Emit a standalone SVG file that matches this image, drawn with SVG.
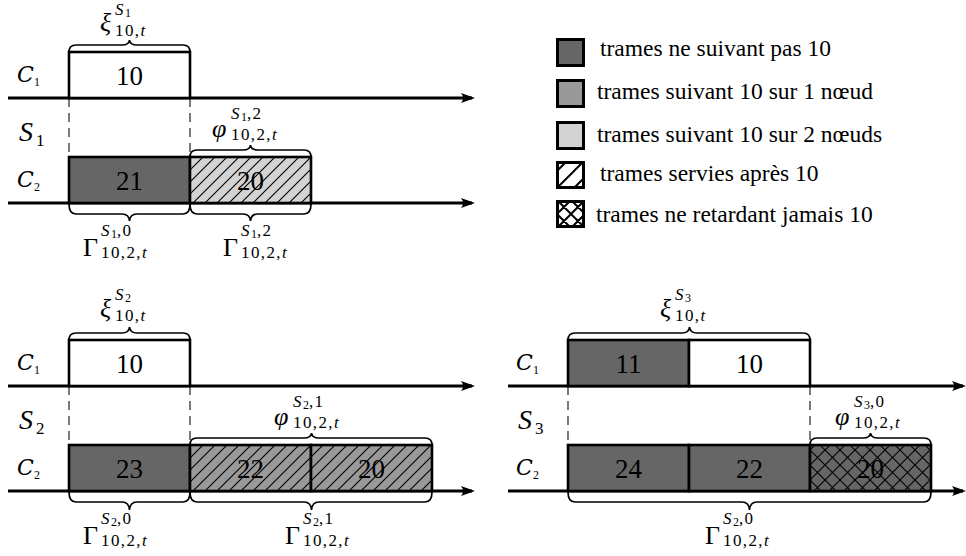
<svg xmlns="http://www.w3.org/2000/svg" width="966" height="556" viewBox="0 0 966 556">
<style>
.m{font-family:"Liberation Serif","DejaVu Serif",serif;fill:#000}
.b{font-size:26px}
.s{font-size:17px;letter-spacing:1.4px}
.ss{font-size:12px;letter-spacing:0}
.i{font-style:italic}
.phi{font-family:"Liberation Serif","DejaVu Serif",serif;font-size:26px;font-style:italic}
.big{font-size:28px}
.cal{font-family:"DejaVu Serif","DejaVu Sans","Liberation Serif",serif;font-size:22px}
.num{font-family:"Liberation Serif",serif;font-size:27px;text-anchor:middle;fill:#000}
.leg{font-family:"Liberation Serif",serif;font-size:23.5px;fill:#000}
.box{stroke:#000;stroke-width:2.6}
.dark{fill:#666}
.med{fill:#999}
.light{fill:#d3d3d3}
.white{fill:#fff}
.axis{stroke:#000;stroke-width:2.8;fill:none}
.dash{stroke:#222;stroke-width:1.2;stroke-dasharray:9 6;fill:none}
.brace{stroke:#000;stroke-width:1.7;fill:none}
.lg{stroke:#000;stroke-width:3}
</style>
<defs>
<marker id="arr" viewBox="-14 -6 18 12" refX="0" refY="0" markerWidth="18" markerHeight="12" markerUnits="userSpaceOnUse" orient="auto">
<path d="M3,0 L-11,-5 Q-7,0 -11,5 Z" fill="#000"/>
</marker>
<pattern id="hatch" patternUnits="userSpaceOnUse" width="12" height="12">
<path d="M-3,3 L3,-3 M0,12 L12,0 M9,15 L15,9" stroke="#000" stroke-width="1.1"/>
</pattern>
<pattern id="cross" patternUnits="userSpaceOnUse" width="15" height="15">
<path d="M-3,3 L3,-3 M0,15 L15,0 M12,18 L18,12 M12,-3 L18,3 M0,0 L15,15 M-3,12 L3,18" stroke="#000" stroke-width="1.1"/>
</pattern>
<pattern id="lhatch" patternUnits="userSpaceOnUse" width="17" height="17" patternTransform="translate(557,188)">
<path d="M-3,3 L3,-3 M0,17 L17,0 M14,20 L20,14" stroke="#000" stroke-width="2"/>
</pattern>
<pattern id="lcross" patternUnits="userSpaceOnUse" width="14" height="14" patternTransform="translate(571,214)">
<path d="M-3,3 L3,-3 M0,14 L14,0 M11,17 L17,11 M11,-3 L17,3 M0,0 L14,14 M-3,11 L3,17" stroke="#000" stroke-width="2"/>
</pattern>
</defs>
<rect width="966" height="556" fill="#fff"/>

<g id="connectors">
<line class="axis" x1="8" y1="98" x2="472" y2="98" marker-end="url(#arr)"/>
<line class="axis" x1="8" y1="203" x2="472" y2="203" marker-end="url(#arr)"/>
<line class="axis" x1="8" y1="386" x2="472" y2="386" marker-end="url(#arr)"/>
<line class="axis" x1="8" y1="491" x2="472" y2="491" marker-end="url(#arr)"/>
<line class="axis" x1="508" y1="386" x2="963" y2="386" marker-end="url(#arr)"/>
<line class="axis" x1="508" y1="491" x2="963" y2="491" marker-end="url(#arr)"/>
<path class="dash" d="M69,98 V157 M190,98 V157 M69,386 V445 M190,386 V445 M568,386 V445 M810,386 V445"/>
</g>

<g id="panel-s1">
<text class="m cal i" x="17" y="82">C</text><text class="m ss" x="34" y="86">1</text>
<text class="m big i" x="19" y="141">S</text><text class="m s" x="36" y="146">1</text>
<text class="m cal i" x="17" y="187">C</text><text class="m ss" x="34" y="191">2</text>
<g id="s1-c1-10"><rect class="box white" x="69" y="52" width="121" height="46"/><text class="num" x="129.5" y="85">10</text></g>
<g id="s1-c2-21"><rect class="box dark" x="69" y="157" width="121" height="46"/><text class="num" x="129.5" y="190">21</text></g>
<g id="s1-c2-20"><rect class="light" x="190" y="157" width="121" height="46"/><text class="num" x="250.5" y="190">20</text><rect x="190" y="157" width="121" height="46" fill="url(#hatch)"/><rect class="box" fill="none" x="190" y="157" width="121" height="46"/></g>
<path class="brace" d="M69,52 Q69,45 76,45 L122,45 Q129,45 129.5,40 Q130,45 137,45 L183,45 Q190,45 190,52"/>
<path class="brace" d="M190,157 Q190,150 197,150 L243,150 Q250,150 250.5,145 Q251,150 258,150 L304,150 Q311,150 311,157"/>
<path class="brace" d="M69,204 Q69,214 76,214 L122,214 Q129,214 129.5,221 Q130,214 137,214 L183,214 Q190,214 190,204"/>
<path class="brace" d="M190,204 Q190,214 197,214 L243,214 Q250,214 250.5,221 Q251,214 258,214 L304,214 Q311,214 311,204"/>
<g id="xi-s1"><text class="m b i" x="100" y="31">ξ</text><text class="m s" x="115" y="15"><tspan class="i">S</tspan><tspan class="ss" dy="2">1</tspan></text><text class="m s" x="115" y="36">10,<tspan class="i">t</tspan></text></g>
<g id="phi-s1"><text class="m phi" x="212" y="137">φ</text><text class="m s" x="231" y="119"><tspan class="i">S</tspan><tspan class="ss" dy="2">1</tspan><tspan dy="-2">,2</tspan></text><text class="m s" x="231" y="140">10,2,<tspan class="i">t</tspan></text></g>
<g id="gamma-s1-0"><text class="m b" x="83" y="256">Γ</text><text class="m s" x="101" y="236"><tspan class="i">S</tspan><tspan class="ss" dy="2">1</tspan><tspan dy="-2">,0</tspan></text><text class="m s" x="101" y="258">10,2,<tspan class="i">t</tspan></text></g>
<g id="gamma-s1-2"><text class="m b" x="223" y="256">Γ</text><text class="m s" x="241" y="236"><tspan class="i">S</tspan><tspan class="ss" dy="2">1</tspan><tspan dy="-2">,2</tspan></text><text class="m s" x="241" y="258">10,2,<tspan class="i">t</tspan></text></g>
</g>

<g id="panel-s2">
<text class="m cal i" x="17" y="370">C</text><text class="m ss" x="34" y="374">1</text>
<text class="m big i" x="19" y="429">S</text><text class="m s" x="36" y="434">2</text>
<text class="m cal i" x="17" y="475">C</text><text class="m ss" x="34" y="479">2</text>
<g id="s2-c1-10"><rect class="box white" x="69" y="340" width="121" height="46"/><text class="num" x="129.5" y="373">10</text></g>
<g id="s2-c2-23"><rect class="box dark" x="69" y="445" width="121" height="46"/><text class="num" x="129.5" y="478">23</text></g>
<g id="s2-c2-22"><rect class="med" x="190" y="445" width="121" height="46"/><text class="num" x="250.5" y="478">22</text><rect x="190" y="445" width="121" height="46" fill="url(#hatch)"/><rect class="box" fill="none" x="190" y="445" width="121" height="46"/></g>
<g id="s2-c2-20"><rect class="med" x="311" y="445" width="121" height="46"/><text class="num" x="371.5" y="478">20</text><rect x="311" y="445" width="121" height="46" fill="url(#hatch)"/><rect class="box" fill="none" x="311" y="445" width="121" height="46"/></g>
<path class="brace" d="M69,340 Q69,333 76,333 L122,333 Q129,333 129.5,327 Q130,333 137,333 L183,333 Q190,333 190,340"/>
<path class="brace" d="M190,445 Q190,438 197,438 L304,438 Q311,438 311.5,433 Q312,438 319,438 L425,438 Q432,438 432,445"/>
<path class="brace" d="M69,492 Q69,502 76,502 L122,502 Q129,502 129.5,510 Q130,502 137,502 L183,502 Q190,502 190,492"/>
<path class="brace" d="M190,492 Q190,502 197,502 L304,502 Q311,502 311.5,510 Q312,502 319,502 L425,502 Q432,502 432,492"/>
<g id="xi-s2"><text class="m b i" x="100" y="317">ξ</text><text class="m s" x="115" y="300"><tspan class="i">S</tspan><tspan class="ss" dy="2">2</tspan></text><text class="m s" x="115" y="321">10,<tspan class="i">t</tspan></text></g>
<g id="phi-s2"><text class="m phi" x="274" y="425">φ</text><text class="m s" x="293" y="407"><tspan class="i">S</tspan><tspan class="ss" dy="2">2</tspan><tspan dy="-2">,1</tspan></text><text class="m s" x="293" y="428">10,2,<tspan class="i">t</tspan></text></g>
<g id="gamma-s2-0"><text class="m b" x="83" y="544">Γ</text><text class="m s" x="101" y="524"><tspan class="i">S</tspan><tspan class="ss" dy="2">2</tspan><tspan dy="-2">,0</tspan></text><text class="m s" x="101" y="546">10,2,<tspan class="i">t</tspan></text></g>
<g id="gamma-s2-1"><text class="m b" x="285" y="544">Γ</text><text class="m s" x="303" y="524"><tspan class="i">S</tspan><tspan class="ss" dy="2">2</tspan><tspan dy="-2">,1</tspan></text><text class="m s" x="303" y="546">10,2,<tspan class="i">t</tspan></text></g>
</g>

<g id="panel-s3">
<text class="m cal i" x="516" y="370">C</text><text class="m ss" x="533" y="374">1</text>
<text class="m big i" x="518" y="429">S</text><text class="m s" x="535" y="434">3</text>
<text class="m cal i" x="516" y="475">C</text><text class="m ss" x="533" y="479">2</text>
<g id="s3-c1-11"><rect class="box dark" x="568" y="340" width="121" height="46"/><text class="num" x="628.5" y="373">11</text></g>
<g id="s3-c1-10"><rect class="box white" x="689" y="340" width="121" height="46"/><text class="num" x="749.5" y="373">10</text></g>
<g id="s3-c2-24"><rect class="box dark" x="568" y="445" width="121" height="46"/><text class="num" x="628.5" y="478">24</text></g>
<g id="s3-c2-22"><rect class="box dark" x="689" y="445" width="121" height="46"/><text class="num" x="749.5" y="478">22</text></g>
<g id="s3-c2-20"><rect class="dark" x="810" y="445" width="121" height="46"/><text class="num" x="870.5" y="478">20</text><rect x="810" y="445" width="121" height="46" fill="url(#cross)"/><rect class="box" fill="none" x="810" y="445" width="121" height="46"/></g>
<path class="brace" d="M568,340 Q568,333 575,333 L682,333 Q689,333 689.5,327 Q690,333 697,333 L803,333 Q810,333 810,340"/>
<path class="brace" d="M810,445 Q810,438 817,438 L863,438 Q870,438 870.5,433 Q871,438 878,438 L924,438 Q931,438 931,445"/>
<path class="brace" d="M568,492 Q568,502 575,502 L742,502 Q749,502 749.5,510 Q750,502 757,502 L924,502 Q931,502 931,492"/>
<g id="xi-s3"><text class="m b i" x="660" y="317">ξ</text><text class="m s" x="675" y="300"><tspan class="i">S</tspan><tspan class="ss" dy="2">3</tspan></text><text class="m s" x="675" y="321">10,<tspan class="i">t</tspan></text></g>
<g id="phi-s3"><text class="m phi" x="835" y="425">φ</text><text class="m s" x="854" y="407"><tspan class="i">S</tspan><tspan class="ss" dy="2">3</tspan><tspan dy="-2">,0</tspan></text><text class="m s" x="854" y="428">10,2,<tspan class="i">t</tspan></text></g>
<g id="gamma-s3"><text class="m b" x="705" y="544">Γ</text><text class="m s" x="723" y="524"><tspan class="i">S</tspan><tspan class="ss" dy="2">2</tspan><tspan dy="-2">,0</tspan></text><text class="m s" x="723" y="546">10,2,<tspan class="i">t</tspan></text></g>
</g>

<g id="legend">
<g id="leg1"><rect class="lg dark" x="557.5" y="39.5" width="26" height="26"/><text class="leg" x="600" y="56">trames ne suivant pas 10</text></g>
<g id="leg2"><rect class="lg med" x="557.5" y="80.5" width="26" height="26"/><text class="leg" x="597" y="99">trames suivant 10 sur 1 nœud</text></g>
<g id="leg3"><rect class="lg light" x="557.5" y="122.5" width="26" height="26"/><text class="leg" x="597" y="142">trames suivant 10 sur 2 nœuds</text></g>
<g id="leg4"><rect class="lg" fill="url(#lhatch)" x="557.5" y="162.5" width="26" height="25"/><text class="leg" x="600" y="181">trames servies après 10</text></g>
<g id="leg5"><rect class="lg" fill="url(#lcross)" x="557.5" y="201.5" width="26" height="25"/><text class="leg" x="596" y="222">trames ne retardant jamais 10</text></g>
</g>
</svg>
